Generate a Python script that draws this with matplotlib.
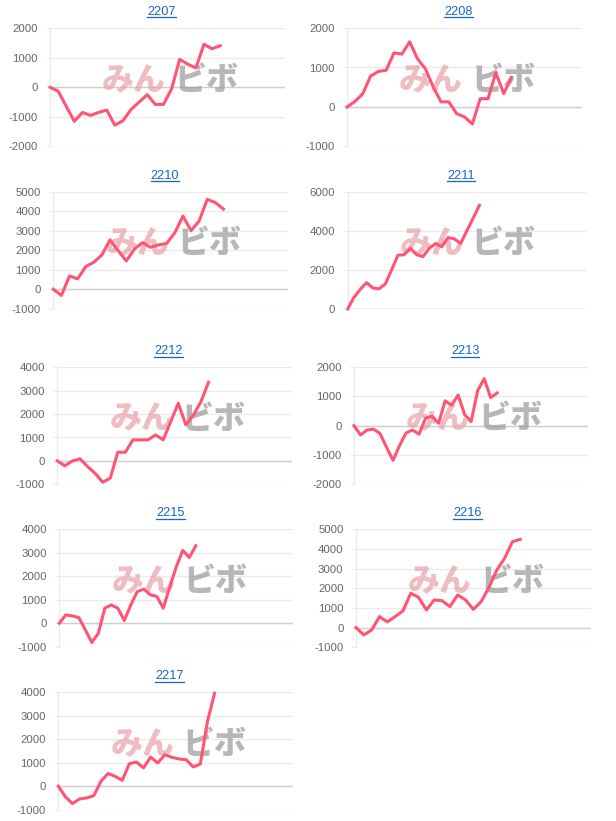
import matplotlib
matplotlib.use("Agg")
import matplotlib.pyplot as plt
from matplotlib.lines import Line2D

plt.rcParams['font.family'] = ['Liberation Sans', 'DejaVu Sans']

# monthly P/L curves (one value per trading day)
labels = ["2207", "2208", "2210", "2211", "2212", "2213", "2215", "2216", "2217"]

pl_2207 = [0, -130, -640, -1150, -850, -950, -850, -770, -1280, -1130, -750,
           -500, -250, -580, -580, -60, 940, 780, 650, 1450, 1300, 1400]
pl_2208 = [0, 140, 330, 780, 900, 930, 1370, 1340, 1650, 1220, 970,
           510, 130, 130, -170, -250, -430, 210, 210, 870, 340, 750]
pl_2210 = [0, -320, 680, 530, 1160, 1380, 1760, 2530, 1980, 1450, 2050,
           2390, 2150, 2270, 2350, 2900, 3750, 3000, 3500, 4610, 4440, 4110]
pl_2211 = [0, 600, 1000, 1350, 1080, 1030, 1280, 2000, 2750, 2780, 3100,
           2780, 2680, 3100, 3350, 3180, 3650, 3590, 3350, 4000, 4650, 5300]
pl_2212 = [0, -210, 0, 90, -240, -530, -910, -740, 370, 370, 900,
           900, 900, 1110, 900, 1680, 2460, 1540, 1960, 2530, 3360]
pl_2213 = [0, -320, -150, -120, -270, -740, -1190, -680, -250, -150, -290, 260,
           320, 80, 850, 700, 1050, 380, 140, 1200, 1610, 960, 1120]
pl_2215 = [0, 355, 310, 240, -280, -820, -430, 640, 780, 640, 110,
           780, 1350, 1450, 1210, 1140, 640, 1550, 2410, 3100, 2800, 3300]
pl_2216 = [0, -370, -120, 560, 290, 560, 850, 1750, 1540, 900, 1410,
           1370, 1070, 1660, 1410, 930, 1320, 2050, 2930, 3530, 4370, 4490]
pl_2217 = [0, -450, -740, -540, -500, -400, 210, 540, 420, 250, 960, 1030,
           780, 1240, 990, 1340, 1230, 1160, 1130, 820, 950, 2760, 3960]

series = [pl_2207, pl_2208, pl_2210, pl_2211, pl_2212, pl_2213, pl_2215, pl_2216, pl_2217]

ticks_2207 = [-2000, -1000, 0, 1000, 2000]
ticks_2208 = [-1000, 0, 1000, 2000]
ticks_2210 = [-1000, 0, 1000, 2000, 3000, 4000, 5000]
ticks_2211 = [0, 2000, 4000, 6000]
ticks_2212 = [-1000, 0, 1000, 2000, 3000, 4000]
ticks_2213 = [-2000, -1000, 0, 1000, 2000]
ticks_2215 = [-1000, 0, 1000, 2000, 3000, 4000]
ticks_2216 = [-1000, 0, 1000, 2000, 3000, 4000, 5000]
ticks_2217 = [-1000, 0, 1000, 2000, 3000, 4000]

yticks = [ticks_2207, ticks_2208, ticks_2210, ticks_2211, ticks_2212,
          ticks_2213, ticks_2215, ticks_2216, ticks_2217]

# width of the x axis in day slots
xslots = [29, 30, 29, 38, 31, 36, 36, 30, 33]

# plot boxes in pixels: left, right, top, bottom
boxes = [(50, 285, 28, 146.5), (347, 582, 28, 146.5),
         (53.3, 288.3, 191.7, 308.7), (347.7, 586, 191.7, 309),
         (57.3, 291.7, 367.3, 484.3), (354, 588.3, 367.3, 484),
         (59.3, 293.3, 529.3, 646.7), (356, 590.7, 529.3, 647.3),
         (58.3, 292.7, 692.3, 809.7)]

W, H = 616, 821
fig = plt.figure(figsize=(W / 100, H / 100), dpi=100)

line_col = '#ff5473'
grid_col = '#ebebeb'
titles = []

for i in range(len(labels)):
    l, r, t, b = boxes[i]
    ax = fig.add_axes([l / W, 1 - b / H, (r - l) / W, (b - t) / H])
    vals = series[i]
    tk = yticks[i]

    ax.set_xlim(0, xslots[i])
    ax.set_ylim(tk[0], tk[-1])
    ax.set_yticks(tk)
    ax.set_yticklabels([str(v) for v in tk])
    ax.set_xticks([])
    ax.grid(axis='y', color=grid_col, lw=1.0)
    ax.axhline(0, color='#cfcfcf', lw=1.0, zorder=1)
    for s in ['top', 'right', 'bottom']:
        ax.spines[s].set_visible(False)
    ax.spines['left'].set_color(grid_col)
    ax.spines['left'].set_linewidth(1.0)
    ax.tick_params(axis='y', length=3, color=grid_col, labelcolor='#666666',
                   labelsize=8.2, pad=6)
    ax.set_axisbelow(True)

    # watermark
    wy = 0.5 + 7 / (b - t)
    ax.text(52 / (r - l), wy, "みん", transform=ax.transAxes,
            family=['Noto Sans CJK JP'], fontweight='heavy', fontsize=23,
            color='#e79aa1', alpha=0.65, ha='left', va='center', zorder=2)
    ax.text(124 / (r - l), wy, "ビボ", transform=ax.transAxes,
            family=['Noto Sans CJK JP'], fontweight='heavy', fontsize=23,
            color='#999999', alpha=0.7, ha='left', va='center', zorder=2)

    ax.plot(range(len(vals)), vals, color=line_col, lw=2.2, zorder=3,
            clip_on=False)

    cx = (l + r) / 2 - 6
    ty = t - 16
    txt = fig.text(cx / W, 1 - ty / H, labels[i], color='#1565c8',
                   fontsize=9.2, ha='center', va='center')
    titles.append((txt, cx, ty))

fig.canvas.draw()
for txt, cx, ty in titles:
    bb = txt.get_window_extent()
    uy = 1 - (ty + 5.5) / H
    fig.add_artist(Line2D([bb.x0 / W, bb.x1 / W], [uy, uy],
                          color='#1565c8', lw=0.9, transform=fig.transFigure))

fig.savefig("out.png", dpi=100, facecolor='white')
